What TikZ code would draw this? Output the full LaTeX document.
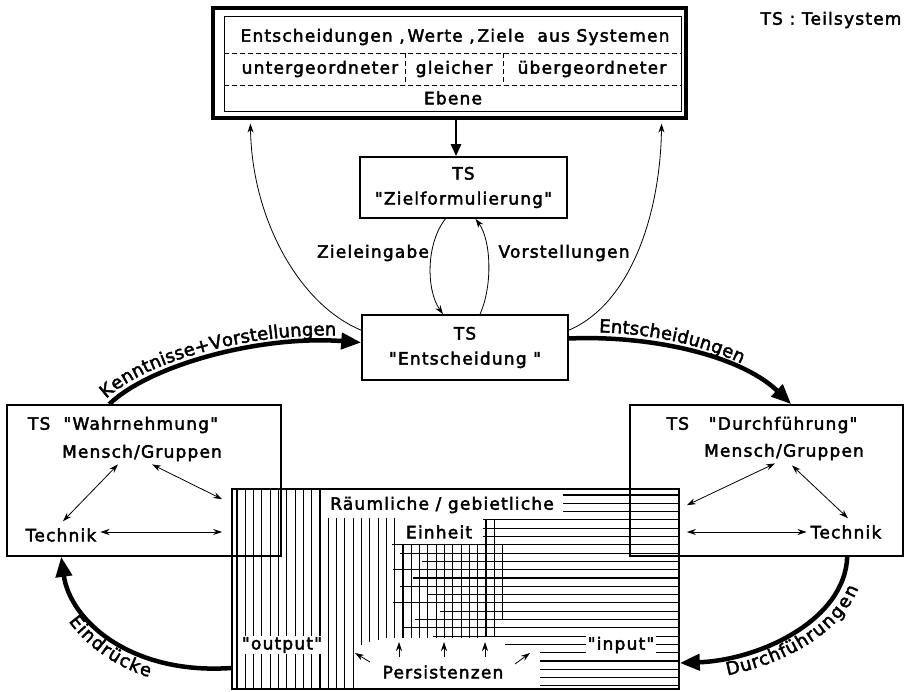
\documentclass[tikz,border=0pt]{standalone}
\usepackage{fontspec}
\newfontfamily\lett{DejaVu Sans}[LetterSpace=7,FakeBold=2.5]
\newfontfamily\curvelett{DejaVu Sans}[FakeBold=2.5]
\usetikzlibrary{arrows.meta,decorations.text,calc}
\newcommand\curvefont{\curvelett\fontsize{18}{20}\selectfont}
\begin{document}
\begin{tikzpicture}[x=1pt,y=1pt,
  font=\lett\fontsize{17}{21}\selectfont,
  every node/.style={inner sep=2pt},
  box/.style={draw, line width=1.6pt, inner sep=0pt, align=center, font=\lett\fontsize{17}{25}\selectfont},
  frame/.style={draw, line width=1.6pt, inner sep=0pt},
  lbl/.style={fill=white, inner sep=1.5pt},
  hatch/.style={line width=1.1pt},
  thinarr/.style={line width=0.8pt, -{Stealth[length=9pt,width=6pt]}},
  dblarr/.style={line width=0.8pt, {Stealth[length=9pt,width=6pt]}-{Stealth[length=9pt,width=6pt]}},
  fatarr/.style={line width=4.5pt, -{Triangle[length=20pt,width=16pt]}},
  midarr/.style={line width=2.6pt, -{Triangle[length=12pt,width=10pt]}},
  sep/.style={line width=0.8pt, dash pattern=on 5pt off 3pt},
]
\useasboundingbox (0,0) rectangle (913,691);

% ---------- hatched region ----------
\foreach \x/\ta/\tb in {237/202/2,245.3/202/2,253.6/202/2,261.9/202/2,270.2/202/2,278.5/202/2,
  286.8/202/2,295.1/202/2,303.4/202/2,311.7/202/2,320/202/2,
  328.3/173/2,336.6/173/2,344.9/173/2,353.2/173/2,
  361.5/173/46,369.8/173/49,378.1/173/51,386.4/173/53,394.7/173/53,
  403/147/53,411.3/147/53,419.6/147/53,427.9/147/53,436.2/147/53,444.5/147/53,
  452.8/147/53,461.1/147/53,469.4/147/53,477.7/147/53,
  486/171/54,494.3/171/54,502.6/147/71}
  \draw[hatch] (\x,\ta) -- (\x,\tb);
\foreach \y/\l in {196/563,187.7/563,179.4/563,171.1/483,162.8/483,154.5/483,
  146.2/392,137.9/400,129.6/422,121.3/393,113/413,104.7/400,96.4/427,88.1/393,
  79.8/440,71.5/415,63.2/402,54.9/433,46.6/505,38.3/540,30/540,21.7/540,13.4/540,5.1/540}
  \draw[hatch] (\l,\y) -- (679,\y);
\node[frame, minimum width=447pt, minimum height=200pt] (region) at (455.5,102) {};

\node[lbl] (raum) at (442,186) {Räumliche / gebietliche};
\node[lbl] (einheit) at (439,159) {Einheit};
\node[lbl] (output) at (282,46) {"output"};
\node[lbl] (input) at (621,46) {"input"};
\node[lbl] (pers) at (443,19) {Persistenzen};
\draw[thinarr] ($(pers)+(-73,10)$) -- ($(pers)+(-88,19)$);
\draw[thinarr] ($(pers)+(-44,15)$) -- ($(pers)+(-44,30)$);
\draw[thinarr] ($(pers)+(1,15)$) -- ($(pers)+(1,30)$);
\draw[thinarr] ($(pers)+(42,15)$) -- ($(pers)+(42,30)$);
\draw[thinarr] ($(pers)+(72,8)$) -- ($(pers)+(87,19)$);

% ---------- top box ----------
\node[draw, line width=3.2pt, minimum width=473pt, minimum height=110pt, inner sep=0pt] (topout) at (449.5,628) {};
\node[draw, line width=1pt, minimum width=457pt, minimum height=95pt, inner sep=0pt] (top) at (452.5,626.5) {};
\node (r1) at (455,654) {Entscheidungen\ ,\,Werte\ ,\,Ziele\ \ aus Systemen};
\coordinate (d1) at (0,638);
\coordinate (d2) at (0,606);
\draw[sep] (top.west |- d1) -- (top.east |- d1);
\draw[sep] (top.west |- d2) -- (top.east |- d2);
\node (unter) at (320,622) {untergeordneter};
\node (gleich) at (454,622) {gleicher};
\node (ueber) at (592,622) {übergeordneter};
\coordinate (v1) at (405,0);
\coordinate (v2) at (503,0);
\draw[sep] (v1 |- d1) -- (v1 |- d2);
\draw[sep] (v2 |- d1) -- (v2 |- d2);
\node (ebene) at (453,593) {Ebene};

\node (legend) at (831,671) {TS : Teilsystem};

% ---------- TS boxes ----------
\node[box, minimum width=207pt, minimum height=61pt] (ziel) at (463.5,503.5) {TS\\"Zielformulierung"};
\node[box, minimum width=206pt, minimum height=65pt] (ent) at (465,343.5) {TS\\"Entscheidung "};

\node[frame, minimum width=274pt, minimum height=151pt] (wahr) at (144,210.5) {};
\node (wtitle) at (123,266) {TS \ "Wahrnehmung"};
\node (wmensch) at (142,238) {Mensch/Gruppen};
\node (wtech) at (61,156) {Technik};

\node[frame, minimum width=273pt, minimum height=151pt] (durch) at (766.5,210.5) {};
\node (dtitle) at (762,266) {TS \ \ "Durchführung"};
\node (dmensch) at (784,239) {Mensch/Gruppen};
\node (dtech) at (846,159) {Technik};

% ---------- arrows inside the side boxes ----------
\draw[dblarr] ($(wmensch.south)+(-24,-1)$) -- ($(wtech.north)+(2,5)$);
\draw[dblarr] ($(wmensch.south)+(10,-1)$) -- ($(region.north west)+(-9,-11)$);
\draw[dblarr] ($(wtech.east)+(2,3)$) -- ($(region.west |- wtech.east)+(-9,3)$);
\draw[dblarr] ($(dmensch.south)+(-9,-1)$) -- ($(region.north east)+(7,-17)$);
\draw[dblarr] ($(dmensch.south)+(8,-3)$) -- ($(dtech.north)+(2,5)$);
\draw[dblarr] ($(dtech.west)+(-2,0)$) -- ($(region.east |- dtech.west)+(7,0)$);

% ---------- central arrows ----------
\coordinate (downx) at ($(ziel.north)+(-7.5,0)$);
\draw[midarr] (topout.south -| downx) -- (downx);
\draw[thinarr] ($(ent.north west)+(0,-16)$) .. controls (300,386) and (252,471) .. ($(topout.south west)+(39,-4)$);
\draw[thinarr] ($(ent.north east)+(0,-16)$) .. controls (628,386) and (660,471) .. ($(topout.south east)+(-26,-4)$);
\draw[thinarr] ($(ziel.south)+(-18,0)$) .. controls (426,448) and (426,401) .. ($(ent.north)+(-22,0)$);
\draw[thinarr] ($(ent.north)+(15,0)$) .. controls (493,406) and (491,451) .. ($(ziel.south)+(12,0)$);
\node (zein) at (373,438) {Zieleingabe};
\node (vorst) at (564,438) {Vorstellungen};

% ---------- thick cycle arrows ----------
\draw[fatarr] ($(wahr.north west)+(103,0)$) .. controls (150,326) and (260,356) .. ($(ent.west)+(0,5)$);
\path[decorate, decoration={text along path, text={|\curvefont|Kenntnisse+Vorstellungen}, text align={left indent=1pt}, raise=6pt}]
  ($(wahr.north west)+(103,0)$) .. controls (150,326) and (260,356) .. ($(ent.west)+(0,5)$);

\draw[fatarr] ($(ent.east)+(0,9)$) .. controls (650,356) and (740,336) .. ($(durch.north west)+(162,0)$);
\path[decorate, decoration={text along path, text={|\curvefont|Entscheidungen}, text align={left indent=30pt}, raise=6pt}]
  ($(ent.east)+(0,9)$) .. controls (650,356) and (740,336) .. ($(durch.north west)+(162,0)$);

\draw[fatarr] ($(durch.south west)+(218,0)$) .. controls (845,71) and (760,31) .. ($(region.east)+(0,-74)$);
\path[decorate, decoration={text along path, text={|\curvefont|Durchführungen}, text align={left indent=44pt}, raise=-18pt}]
  ($(region.east)+(0,-74)$) .. controls (760,31) and (845,71) .. ($(durch.south west)+(218,0)$);

\draw[fatarr] ($(region.west)+(0,-79)$) .. controls (130,16) and (70,71) .. ($(wahr.south west)+(55,0)$);
\path[decorate, decoration={text along path, text={|\curvefont|Eindrücke}, text align={left indent=58pt}, raise=-18pt}]
  ($(wahr.south west)+(55,0)$) .. controls (70,71) and (130,16) .. ($(region.west)+(0,-79)$);
\end{tikzpicture}
\end{document}
